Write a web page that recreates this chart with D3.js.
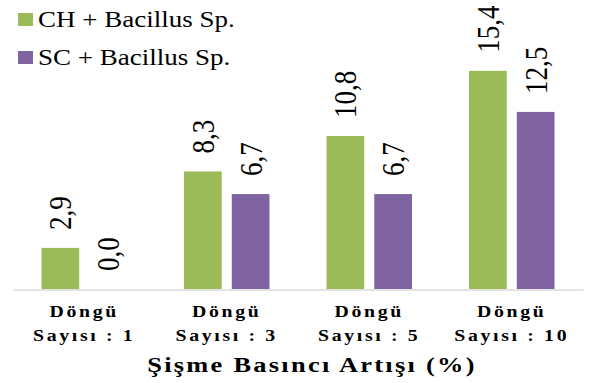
<!DOCTYPE html>
<html>
<head>
<meta charset="utf-8">
<script src="https://cdn.jsdelivr.net/npm/d3@7"></script>
<style>
  html, body { margin: 0; padding: 0; background: #fff; }
  svg { display: block; }
</style>
</head>
<body>
<svg id="chart" width="593" height="383" font-family="'Liberation Serif', 'Times New Roman', serif"></svg>
<script>
// Cycle counts on the x axis and the two mixture series (% swelling pressure increase)
const categories = ["1", "3", "5", "10"];
const seriesNames = ["CH + Bacillus Sp.", "SC + Bacillus Sp."];
const chValues = [2.9, 8.3, 10.8, 15.4];
const scValues = [0.0, 6.7, 6.7, 12.5];
const seriesColors = ["#9bbb59", "#8064a2"];
const axisTitle = "Şişme Basıncı Artışı (%)";

const plot = { left: 13, right: 583, top: 0, bottom: 289 };
const stretch = 1.2; // horizontal widening applied to all lettering

const fmt = v => v.toFixed(1).replace(".", ",");

const svg = d3.select("#chart");

const x0 = d3.scaleBand()
  .domain(categories)
  .range([plot.left, plot.right])
  .paddingInner(0.4)
  .paddingOuter(0.2);

const x1 = d3.scaleBand()
  .domain(d3.range(seriesNames.length))
  .range([0, x0.bandwidth()])
  .paddingInner(0.21);

const y = d3.scaleLinear()
  .domain([0, 20.4])
  .range([plot.bottom, plot.top]);

const rows = categories.map((c, i) => ({
  cat: c,
  vals: [chValues[i], scValues[i]]
}));

// Bars
const groups = svg.append("g").selectAll("g")
  .data(rows)
  .join("g")
  .attr("transform", d => `translate(${x0(d.cat)},0)`);

groups.selectAll("rect")
  .data(d => d.vals.map((v, s) => ({ v, s })))
  .join("rect")
  .attr("x", d => x1(d.s))
  .attr("width", x1.bandwidth())
  .attr("y", d => y(d.v))
  .attr("height", d => y(0) - y(d.v))
  .attr("fill", d => seriesColors[d.s]);

// Value labels, rotated, above each bar
groups.selectAll("text.val")
  .data(d => d.vals.map((v, s) => ({ v, s })))
  .join("text")
  .attr("class", "val")
  .attr("transform", d => `translate(${x1(d.s) + x1.bandwidth() / 2},${y(d.v) - 18}) scale(${stretch},1) rotate(-90)`)
  .attr("dy", "0.34em")
  .attr("text-anchor", "start")
  .attr("font-size", 27)
  .text(d => fmt(d.v));

// Category axis
const xAxis = d3.axisBottom(x0).tickSize(0).tickSizeOuter(0).tickFormat(() => "");
const axisG = svg.append("g")
  .attr("transform", `translate(0,${plot.bottom + 0.5})`)
  .call(xAxis);
axisG.attr("font-family", null);
axisG.select(".domain").attr("stroke", "#d9d9d9").attr("stroke-width", 1.5);

axisG.selectAll(".tick text").remove();
axisG.selectAll(".tick").each(function(c) {
  const t = d3.select(this).append("g")
    .attr("transform", `scale(${stretch},1)`)
    .append("text")
    .attr("text-anchor", "middle")
    .attr("fill", "#000")
    .attr("font-size", 16.5)
    .attr("font-weight", "bold")
    .attr("letter-spacing", 2.2);
  t.append("tspan").attr("x", 0).attr("y", 28).text("Döngü");
  t.append("tspan").attr("x", 0).attr("y", 51.5).text("Sayısı : " + c);
});

// Axis title
svg.append("g")
  .attr("transform", `translate(312,372) scale(${stretch},1)`)
  .append("text")
  .attr("text-anchor", "middle")
  .attr("font-size", 22)
  .attr("font-weight", "bold")
  .attr("letter-spacing", 1.9)
  .text(axisTitle);

// Legend
const legend = svg.append("g").selectAll("g")
  .data(seriesNames)
  .join("g")
  .attr("transform", (d, i) => `translate(18,${13 + i * 38})`);

legend.append("rect")
  .attr("width", 15)
  .attr("height", 13)
  .attr("fill", (d, i) => seriesColors[i]);

legend.append("g")
  .attr("transform", `translate(20,14) scale(${stretch},1)`)
  .append("text")
  .attr("font-size", 22.5)
  .text(d => d);
</script>
</body>
</html>
